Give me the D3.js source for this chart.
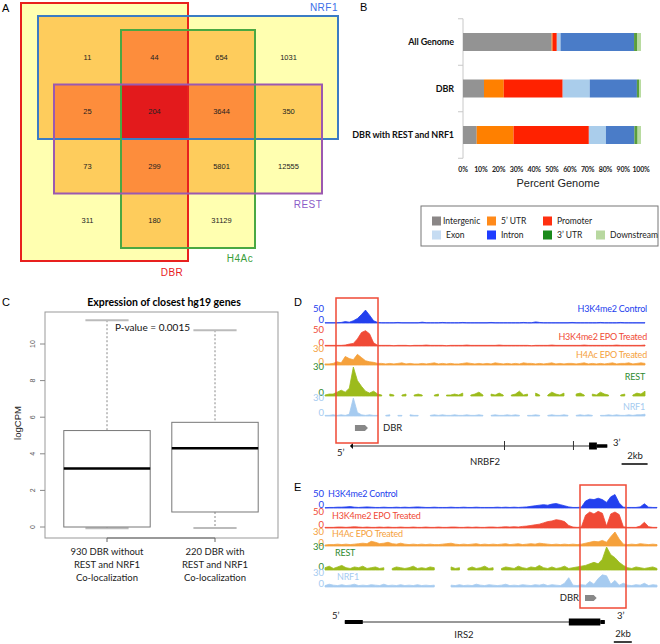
<!DOCTYPE html>
<html>
<head>
<meta charset="utf-8">
<script src="https://cdn.jsdelivr.net/npm/d3@7"></script>
<style>
body { margin: 0; background: #fff; }
text { font-family: "Liberation Sans", Arial, sans-serif; }
.cal { font-family: Lato, "Open Sans", sans-serif; }
</style>
</head>
<body>
<div id="fig"></div>
<script>
// ---------- A: overlap counts (rows: NRF1-only top ... , cols: DBR side ... )
var vennSets = ["DBR", "NRF1", "H4Ac", "REST"];
var vennCounts = [
    [11, 44, 654, 1031],
    [25, 204, 3644, 350],
    [73, 299, 5801, 12555],
    [311, 180, 31129, null]
];

// ---------- B: genomic distribution (%)
var regionNames = ["Intergenic", "5\u2019 UTR", "Promoter", "Exon", "Intron", "3\u2019 UTR", "Downstream"];
var genomeCats = ["All Genome", "DBR", "DBR with REST and NRF1"];
var allGenomePct = [49.8, 0.5, 2.4, 2.1, 41.3, 1.9, 2.0];
var dbrPct = [11.8, 11.1, 33.1, 15.2, 26.5, 1.2, 1.1];
var dbrRestNrf1Pct = [7.7, 20.7, 42.3, 9.6, 16.0, 1.8, 1.9];
var pctTicks = [0, 10, 20, 30, 40, 50, 60, 70, 80, 90, 100];

// ---------- C: boxplot of logCPM
var boxGroups = ["930 DBR without|REST and NRF1|Co-localization", "220 DBR with|REST and NRF1|Co-localization"];
var boxLow = [-0.07, -0.05];
var boxQ1 = [0, 0.82];
var boxMedian = [3.2, 4.3];
var boxQ3 = [5.27, 5.72];
var boxHigh = [11.3, 10.75];
var logTicks = [0, 2, 4, 6, 8, 10];

// ---------- D / E: browser tracks
var trackNames = ["H3K4me2 Control", "H3K4me2 EPO Treated", "H4Ac EPO Treated", "REST", "NRF1"];
var trackMax = [50, 50, 30, 30, 30];

var nrbf2Control = [1,1,1,1,2,5,3,8,16,30,46,28,8,2,1,1,1,1,2,1,
    1,1,1,1,3,1,1,1,1,2,1,1,1,1,2,1,1,1,1,1,
    1,2,1,1,1,1,1,1,1,2,1,1,4,2,1,1,1,1,1,1,
    1,2,1,1,1,1,1,1,2,1,1,1,1,2,1,1,1,1,1,1];
var nrbf2Epo = [2,2,2,2,2,3,6,8,22,42,48,38,10,2,2,2,2,1,2,2,
    2,1,2,2,2,3,2,2,2,2,1,2,2,2,2,3,2,2,2,2,
    2,2,2,3,2,2,2,2,2,2,2,1,2,2,2,2,3,2,2,2,
    2,2,2,2,3,2,2,2,2,2,2,2,3,2,2,2,2,2,2,3];
var nrbf2H4ac = [2,2,3,6,4,16,12,10,20,14,8,6,5,3,3,2,3,2,3,4,
    2,3,2,2,3,2,3,4,2,3,2,3,2,2,3,4,3,2,3,2,
    3,2,4,3,2,3,2,3,2,4,3,3,2,3,2,3,4,2,3,2,
    3,3,2,3,4,2,3,2,3,2,3,4,2,3,3,4,2,3,4,3];
var nrbf2Rest = [1,2,2,4,6,4,8,30,16,10,5,3,5,2,1,null,2,1,null,1,
    2,null,1,2,1,null,null,1,2,null,1,1,2,1,3,null,1,2,4,1,
    null,2,1,3,1,null,1,2,5,1,2,null,3,1,null,1,4,2,1,3,
    null,null,2,3,1,null,2,1,4,2,1,null,null,1,2,null,1,3,2,5];
var nrbf2Nrf1 = [1,1,2,1,2,1,3,30,6,2,1,2,1,1,null,1,2,null,1,1,
    null,2,1,1,null,null,1,2,1,2,1,1,2,1,1,2,1,1,2,1,
    null,1,2,1,1,2,1,2,1,null,1,1,2,1,null,1,2,1,1,2,
    1,null,1,2,1,2,1,null,1,1,2,1,2,1,1,2,1,2,2,3];

var irs2Control = [1,2,2,3,3,4,5,3,2,3,4,3,2,2,3,2,2,3,2,3,
    2,3,4,3,2,2,3,2,2,2,3,2,2,3,2,2,3,2,2,2,
    2,3,2,3,2,3,2,3,4,6,8,10,12,10,14,16,12,8,4,2,
    2,3,25,32,30,35,30,20,40,48,18,3,2,2,2,4,15,3,2,2];
var irs2Epo = [2,2,2,3,3,2,3,4,3,2,3,2,2,3,2,3,2,2,3,2,
    2,3,2,2,3,2,2,3,2,2,3,3,2,2,3,2,3,2,2,3,
    3,2,3,4,3,4,3,5,6,8,10,12,16,20,22,26,24,20,8,3,
    2,3,40,50,44,52,46,6,44,50,42,4,2,2,2,6,18,4,2,2];
var irs2H4ac = [2,3,3,4,3,4,3,4,5,6,5,10,8,5,6,8,5,4,6,4,
    3,4,3,4,3,4,3,3,4,5,6,4,3,4,3,4,5,3,4,3,
    4,3,4,5,3,4,5,3,4,5,4,6,5,4,3,4,3,4,3,4,
    3,4,6,8,10,9,12,8,20,30,15,4,3,4,3,5,4,3,4,3];
var irs2Rest = [3,5,2,4,6,3,2,4,3,5,2,3,4,2,3,null,2,4,3,2,
    3,5,2,3,2,4,3,null,null,null,4,2,3,null,2,4,2,3,5,2,
    3,null,2,4,3,2,5,3,2,4,3,6,3,2,4,2,3,5,2,3,
    4,5,6,8,10,8,14,30,20,16,10,6,3,2,4,3,2,3,4,2];
var irs2Nrf1 = [3,6,4,3,5,3,4,6,3,4,3,5,4,3,6,3,4,3,5,3,
    4,3,5,3,4,3,4,null,null,null,4,3,5,3,4,3,6,4,3,5,
    4,3,4,6,3,4,3,5,4,3,5,4,6,3,5,4,3,8,20,4,
    3,5,4,12,6,18,26,24,6,14,4,8,4,3,5,4,8,3,5,4];

// gene models in kb from the left edge of each view
var nrbf2Span = 24.6, irs2Span = 36.9;
var nrbf2Gene = [2.15, 21.7];
var nrbf2Blocks = [[20.3, 20.9, 7], [20.9, 21.7, 3.5]];
var nrbf2Marks = [13.8, 19.1];
var nrbf2Dbr = [2.3, 3.3];
var irs2Gene = [2.2, 31.1];
var irs2Blocks = [[2.2, 4.2, 4], [27.1, 30.6, 7], [30.6, 31.1, 4]];
var irs2Dbr = [28.9, 30.2];

var svg = d3.select("#fig").append("svg")
    .attr("width", 660)
    .attr("height", 644)
    .style("background", "#fff");

function panelLabel(t, x, y) {
    svg.append("text").attr("x", x).attr("y", y).attr("font-size", 11).text(t);
}
panelLabel("A", 2, 12);
panelLabel("B", 360, 11);
panelLabel("C", 2, 306);
panelLabel("D", 294, 306);
panelLabel("E", 294, 491);

// ================= A
var colX = d3.scaleBand().domain(d3.range(4)).range([54, 322]);
var rowY = d3.scaleBand().domain(d3.range(4)).range([30, 248]);
var bw = colX.bandwidth(), bh = rowY.bandwidth();
// set outlines: which grid columns/rows each set spans, plus an outer margin
var setSpan = [
    {c: [0, 1], r: [0, 3], pad: [33, 0, 27, 13], color: "#e8201e"},
    {c: [0, 3], r: [0, 1], pad: [16, 16, 14, 0], color: "#3b7cc4"},
    {c: [1, 2], r: [0, 3], pad: [0, 0, 0, 0], color: "#4aa843"},
    {c: [0, 3], r: [1, 2], pad: [0, 0, 0, 0], color: "#9b59b0"}
];
var setRects = setSpan.map(function(s) {
    return {
        x0: colX(s.c[0]) - s.pad[0], x1: colX(s.c[1]) + bw + s.pad[1],
        y0: rowY(s.r[0]) - s.pad[2], y1: rowY(s.r[1]) + bh + s.pad[3],
        color: s.color
    };
});
var depthFill = ["none", "#ffffb0", "#fecc5c", "#fd8d3c", "#e31a1c"];
var xs = Array.from(new Set(setRects.flatMap(d => [d.x0, d.x1]))).sort((a, b) => a - b);
var ys = Array.from(new Set(setRects.flatMap(d => [d.y0, d.y1]))).sort((a, b) => a - b);
var aG = svg.append("g");
for (var i = 0; i < xs.length - 1; i++) {
    for (var j = 0; j < ys.length - 1; j++) {
        var mx = (xs[i] + xs[i + 1]) / 2, my = (ys[j] + ys[j + 1]) / 2;
        var n = setRects.filter(r => mx > r.x0 && mx < r.x1 && my > r.y0 && my < r.y1).length;
        if (n > 0) {
            aG.append("rect")
                .attr("x", xs[i]).attr("y", ys[j])
                .attr("width", xs[i + 1] - xs[i] + 0.5).attr("height", ys[j + 1] - ys[j] + 0.5)
                .attr("fill", depthFill[n]);
        }
    }
}
vennCounts.forEach(function(row, r) {
    row.forEach(function(v, c) {
        if (v == null) return;
        aG.append("text")
            .attr("x", colX(c) + bw / 2).attr("y", rowY(r) + bh / 2)
            .attr("dy", "0.35em").attr("text-anchor", "middle")
            .attr("font-size", 7.5).attr("fill", "#222")
            .text(v);
    });
});
setRects.forEach(function(r) {
    aG.append("rect")
        .attr("x", r.x0).attr("y", r.y0)
        .attr("width", r.x1 - r.x0).attr("height", r.y1 - r.y0)
        .attr("fill", "none").attr("stroke", r.color).attr("stroke-width", 2);
});
var setLabelPos = [[172, 276, "middle", "#e8201e"], [338, 11, "end", "#3b6ee8"], [240, 262, "middle", "#3a9e3a"], [308, 208, "middle", "#8a5cc8"]];
vennSets.forEach(function(name, k) {
    var p = setLabelPos[k];
    aG.append("text").attr("x", p[0]).attr("y", p[1])
        .attr("text-anchor", p[2]).attr("fill", p[3])
        .attr("font-size", 10).attr("letter-spacing", 0.5)
        .text(name);
});

// ================= B
var barColors = ["#939393", "#ff8000", "#ff2200", "#aacdeb", "#4a7cc8", "#5a9e3c", "#b8dba0"];
var legendColors = ["#8a8686", "#ff8a1a", "#ff3010", "#c6dcf2", "#1f3dff", "#1a8a1a", "#b8d8a0"];
var bRows = [allGenomePct, dbrPct, dbrRestNrf1Pct].map(function(vals, k) {
    var o = {cat: genomeCats[k]};
    regionNames.forEach(function(n, i) { o[n] = vals[i]; });
    return o;
});
var stack = d3.stack().keys(regionNames)(bRows);
var xB = d3.scaleLinear().domain([0, 100]).range([463, 641]);
var yB = d3.scalePoint().domain(genomeCats).range([42, 135]);
var stepB = yB.step();
var bG = svg.append("g");
bG.append("line").attr("x1", 463).attr("x2", 463)
    .attr("y1", 42 - stepB / 2).attr("y2", 135 + stepB / 2)
    .attr("stroke", "#c8c8c8");
d3.range(4).forEach(function(k) {
    var ty = 42 - stepB / 2 + k * stepB;
    bG.append("line").attr("x1", 458).attr("x2", 463).attr("y1", ty).attr("y2", ty).attr("stroke", "#c8c8c8");
});
stack.forEach(function(layer, li) {
    bG.selectAll(null).data(layer).enter().append("rect")
        .attr("x", d => xB(d[0]))
        .attr("width", d => xB(d[1]) - xB(d[0]))
        .attr("y", d => yB(d.data.cat) - 9)
        .attr("height", 18)
        .attr("fill", barColors[li]);
});
bG.selectAll(null).data(genomeCats).enter().append("text")
    .attr("class", "cal")
    .attr("x", 454).attr("y", d => yB(d)).attr("dy", "0.35em")
    .attr("text-anchor", "end").attr("font-weight", "bold").attr("font-size", 9)
    .attr("letter-spacing", -0.1)
    .attr("fill", "#111")
    .text(d => d);
bG.selectAll(null).data(pctTicks).enter().append("text")
    .attr("class", "cal")
    .attr("x", d => xB(d)).attr("y", 172)
    .attr("text-anchor", "middle").attr("font-weight", "bold").attr("font-size", 7)
    .attr("letter-spacing", -0.2)
    .attr("fill", "#222")
    .text(d => d + "%");
bG.append("text").attr("x", 558).attr("y", 187).attr("text-anchor", "middle")
    .attr("font-size", 11).attr("fill", "#222").text("Percent Genome");

// legend
bG.append("rect").attr("x", 421).attr("y", 206).attr("width", 237).attr("height", 40)
    .attr("fill", "#fff").attr("stroke", "#777");
var legX = [432, 487, 543, 596];
regionNames.forEach(function(n, i) {
    var row = i < 3 ? 0 : 1, col = i < 3 ? i : i - 3;
    var lx = legX[col], ly = row === 0 ? 221 : 235;
    bG.append("rect").attr("x", lx).attr("y", ly - 4.5).attr("width", 9).attr("height", 9)
        .attr("fill", legendColors[i]);
    bG.append("text").attr("class", "cal")
        .attr("x", lx + (i === 0 ? 11 : 14)).attr("y", ly).attr("dy", "0.35em")
        .attr("font-size", 8.5).attr("fill", "#222").text(n);
});

// ================= C
var xC = d3.scaleLinear().domain([0.5, 2.5]).range([53, 269]);
var yC = d3.scaleLinear().domain([0, 10]).range([527, 344]);
var cG = svg.append("g");
cG.append("text").attr("class", "cal").attr("x", 164).attr("y", 306)
    .attr("text-anchor", "middle").attr("font-weight", "bold").attr("font-size", 10.5)
    .text("Expression of closest hg19 genes");
cG.append("rect").attr("x", 45).attr("y", 312).attr("width", 233).attr("height", 226)
    .attr("fill", "none").attr("stroke", "#999");
logTicks.forEach(function(t) {
    cG.append("line").attr("x1", 40).attr("x2", 45).attr("y1", yC(t)).attr("y2", yC(t)).attr("stroke", "#888");
    cG.append("text").attr("transform", "translate(35," + yC(t) + ") rotate(-90)")
        .attr("text-anchor", "middle").attr("font-size", 7).attr("fill", "#555").text(t);
});
cG.append("text").attr("transform", "translate(21,423) rotate(-90)")
    .attr("text-anchor", "middle").attr("font-size", 9.5).attr("fill", "#222").text("logCPM");
boxGroups.forEach(function(g, k) {
    var cx = xC(k + 1), hw = 0.4 * 108, cw = 0.2 * 108;
    cG.append("line").attr("x1", cx).attr("x2", cx).attr("y1", yC(boxHigh[k])).attr("y2", yC(boxQ3[k]))
        .attr("stroke", "#888").attr("stroke-dasharray", "2,2");
    cG.append("line").attr("x1", cx).attr("x2", cx).attr("y1", yC(boxQ1[k])).attr("y2", yC(boxLow[k]))
        .attr("stroke", "#888").attr("stroke-dasharray", "2,2");
    [boxHigh[k], boxLow[k]].forEach(function(v) {
        cG.append("line").attr("x1", cx - cw).attr("x2", cx + cw).attr("y1", yC(v)).attr("y2", yC(v))
            .attr("stroke", "#bbb").attr("stroke-width", 2);
    });
    cG.append("rect").attr("x", cx - hw).attr("y", yC(boxQ3[k]))
        .attr("width", 2 * hw).attr("height", yC(boxQ1[k]) - yC(boxQ3[k]))
        .attr("fill", "#fff").attr("stroke", "#777");
    cG.append("line").attr("x1", cx - hw).attr("x2", cx + hw).attr("y1", yC(boxMedian[k])).attr("y2", yC(boxMedian[k]))
        .attr("stroke", "#000").attr("stroke-width", 2.5);
    cG.append("line").attr("x1", cx).attr("x2", cx).attr("y1", 538).attr("y2", 542).attr("stroke", "#666");
    g.split("|").forEach(function(line, li) {
        cG.append("text").attr("class", "cal").attr("x", cx).attr("y", 555 + li * 13)
            .attr("text-anchor", "middle").attr("font-size", 9.5).attr("fill", "#222").text(line);
    });
});
cG.append("line").attr("x1", xC(1)).attr("x2", xC(2)).attr("y1", 538).attr("y2", 538).attr("stroke", "#666");
cG.append("text").attr("class", "cal").attr("x", 115).attr("y", 331)
    .attr("font-size", 10).attr("fill", "#111").text("P-value = 0.0015");

// ================= D / E tracks
var trackColors = ["#2340ee", "#f04a36", "#f5a13c", "#9cbb1c", "#a6cbf0"];
var trackTextColors = ["#2340ee", "#f04a36", "#f5a13c", "#2f8a2f", "#a6cbf0"];

function drawTracks(signals, x0, x1, bases, tops, labelX, labelY, anchor) {
    var g = svg.append("g");
    signals.forEach(function(vals, k) {
        var x = d3.scaleLinear().domain([0, vals.length - 1]).range([x0, x1]);
        var y = d3.scaleLinear().domain([0, trackMax[k]]).range([bases[k], tops[k]]);
        var area = d3.area()
            .defined(d => d != null)
            .x((d, i) => x(i))
            .y0(bases[k])
            .y1(d => y(d));
        g.append("path").datum(vals).attr("d", area)
            .attr("fill", trackColors[k]).attr("stroke", trackColors[k]).attr("stroke-width", 0.8);
        g.append("text").attr("class", "cal").attr("x", 324).attr("y", tops[k]).attr("dy", "0.35em")
            .attr("text-anchor", "end").attr("font-size", 9.5).attr("fill", trackTextColors[k])
            .text(trackMax[k]);
        g.append("text").attr("class", "cal").attr("x", 324).attr("y", bases[k] - 3).attr("dy", "0.35em")
            .attr("text-anchor", "end").attr("font-size", 9.5).attr("fill", trackTextColors[k])
            .text(0);
        g.append("text").attr("class", "cal").attr("x", labelX[k]).attr("y", labelY[k]).attr("dy", "0.35em")
            .attr("text-anchor", anchor).attr("font-size", 9).attr("letter-spacing", -0.2)
            .attr("fill", trackTextColors[k])
            .text(trackNames[k]);
    });
    return g;
}

function drawGene(g, gx, yLine, gene, blocks, marks, dbr, dbrY, dbrLabelX, dbrAnchor) {
    g.append("line").attr("x1", gx(gene[0])).attr("x2", gx(gene[1])).attr("y1", yLine).attr("y2", yLine)
        .attr("stroke", "#333").attr("stroke-width", 1);
    blocks.forEach(function(b) {
        g.append("rect").attr("x", gx(b[0])).attr("width", gx(b[1]) - gx(b[0]))
            .attr("y", yLine - b[2] / 2).attr("height", b[2]).attr("fill", "#000");
    });
    marks.forEach(function(m) {
        g.append("line").attr("x1", gx(m)).attr("x2", gx(m)).attr("y1", yLine - 5).attr("y2", yLine + 4)
            .attr("stroke", "#333");
    });
    var a = gx(dbr[0]), b = gx(dbr[1]);
    g.append("path")
        .attr("d", "M" + a + "," + (dbrY - 3) + "L" + (b - 3) + "," + (dbrY - 3) + "L" + b + "," + dbrY +
            "L" + (b - 3) + "," + (dbrY + 3) + "L" + a + "," + (dbrY + 3) + "Z")
        .attr("fill", "#888");
    g.append("text").attr("class", "cal").attr("x", dbrLabelX).attr("y", dbrY).attr("dy", "0.35em")
        .attr("text-anchor", dbrAnchor).attr("font-size", 9.5).attr("fill", "#222").text("DBR");
}

function txt(g, s, x, y, anchor) {
    g.append("text").attr("class", "cal").attr("x", x).attr("y", y).attr("dy", "0.35em")
        .attr("text-anchor", anchor || "start").attr("font-size", 9.5).attr("fill", "#222").text(s);
}

// D
var dG = drawTracks([nrbf2Control, nrbf2Epo, nrbf2H4ac, nrbf2Rest, nrbf2Nrf1], 325, 645,
    [323, 346, 365, 396, 416], [309, 330, 349, 367, 398],
    [647, 647, 647, 645, 645], [309, 337, 355, 377, 407], "end");
var gxD = d3.scaleLinear().domain([0, nrbf2Span]).range([325, 645]);
drawGene(dG, gxD, 446, nrbf2Gene, nrbf2Blocks, nrbf2Marks, nrbf2Dbr, 428, 383, "start");
dG.append("path").attr("d", "M" + gxD(nrbf2Gene[0]) + ",443L" + (gxD(nrbf2Gene[0]) - 3) + ",446L" + gxD(nrbf2Gene[0]) + ",449Z").attr("fill", "#000");
dG.append("rect").attr("x", 336).attr("y", 298).attr("width", 42).attr("height", 145)
    .attr("fill", "none").attr("stroke", "#f04a36").attr("stroke-width", 1.5);
txt(dG, "5\u2019", 337, 453);
txt(dG, "3\u2019", 613, 443);
txt(dG, "NRBF2", 485, 462, "middle");
txt(dG, "2kb", 635, 456, "middle");
dG.append("line").attr("x1", gxD(nrbf2Span - 1.8)).attr("x2", gxD(nrbf2Span + 0.2)).attr("y1", 464).attr("y2", 464)
    .attr("stroke", "#000").attr("stroke-width", 1.5);

// E
var eG = drawTracks([irs2Control, irs2Epo, irs2H4ac, irs2Rest, irs2Nrf1], 325, 657,
    [508, 528, 546, 570, 587], [494, 512, 532, 547, 573],
    [328, 332, 332, 335, 337], [494, 516, 534, 553, 577], "start");
var gxE = d3.scaleLinear().domain([0, irs2Span]).range([325, 657]);
drawGene(eG, gxE, 622, irs2Gene, irs2Blocks, [], irs2Dbr, 598, 579, "end");
eG.append("rect").attr("x", 580).attr("y", 485).attr("width", 46).attr("height", 123)
    .attr("fill", "none").attr("stroke", "#f04a36").attr("stroke-width", 1.5);
txt(eG, "5\u2019", 332, 616);
txt(eG, "3\u2019", 617, 616);
txt(eG, "IRS2", 464, 635, "middle");
txt(eG, "2kb", 623, 634, "middle");
eG.append("line").attr("x1", gxE(32.1)).attr("x2", gxE(34.1)).attr("y1", 642).attr("y2", 642)
    .attr("stroke", "#000").attr("stroke-width", 1.5);
</script>
</body>
</html>
